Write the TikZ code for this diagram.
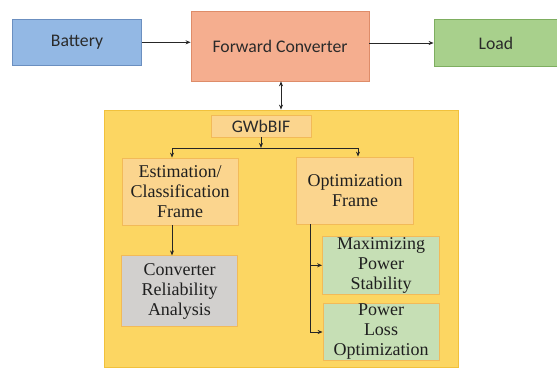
\documentclass[tikz,border=0pt]{standalone}
\usepackage{fontspec}
\setmainfont{Liberation Serif}
\newfontfamily\calib{Carlito}
\usetikzlibrary{arrows.meta,calc}

\definecolor{batfill}{HTML}{93B8E4}
\definecolor{batdraw}{HTML}{6B8FC0}
\definecolor{fcfill}{HTML}{F5AE8F}
\definecolor{fcdraw}{HTML}{DE8C69}
\definecolor{loadfill}{HTML}{A8D08C}
\definecolor{loaddraw}{HTML}{7EAE60}
\definecolor{framefill}{HTML}{FCD662}
\definecolor{framedraw}{HTML}{F1C13C}
\definecolor{subfill}{HTML}{FBD58E}
\definecolor{subdraw}{HTML}{F2BA58}
\definecolor{grayfill}{HTML}{D2D0CE}
\definecolor{greenfill}{HTML}{C6DFB5}
\definecolor{txtdark}{HTML}{2A2A2A}

\tikzset{
  topbox/.style={draw, line width=0.8pt, text=txtdark, align=center,
    font=\calib\fontsize{17.7}{21}\selectfont},
  innerbox/.style={draw=subdraw, line width=0.8pt, text=black!88, align=center,
    font=\fontsize{18}{20}\selectfont},
  arr/.style={draw=black!85, line width=0.8pt, -{Stealth[length=5pt,width=4pt]}},
  dblarr/.style={draw=black!85, line width=0.8pt, {Stealth[length=5pt,width=4pt]}-{Stealth[length=5pt,width=4pt]}},
}

\begin{document}
\begin{tikzpicture}[x=1pt,y=-1pt]
\useasboundingbox (0,0) rectangle (557,369);
\fill[white] (0,0) rectangle (557,369);

% top row: source, converter, load
\node[topbox, fill=batfill, draw=batdraw, minimum width=129pt, minimum height=46.7pt]
  (battery) at (77,42.3) {Battery};
\node[topbox, fill=fcfill, draw=fcdraw, minimum width=178pt, minimum height=69.3pt]
  (fc) at (280,46.3) {Forward Converter};
\node[topbox, fill=loadfill, draw=loaddraw, minimum width=124pt, minimum height=47.4pt]
  (load) at (496,43) {Load};

% control framework
\node[draw=framedraw, fill=framefill, line width=0.8pt, minimum width=354pt, minimum height=257pt]
  (frame) at (281,238.5) {};
\node[innerbox, fill=subfill, font=\calib\fontsize{17.7}{21}\selectfont, text=txtdark,
  minimum width=100pt, minimum height=22pt, inner sep=0pt] (gw) at (261,126) {GWbBIF};

\node[innerbox, fill=subfill, minimum width=116pt, minimum height=67pt, inner sep=2pt]
  (est) at (180,191.5) {Estimation/\\Classification\\Frame};
\node[innerbox, fill=subfill, minimum width=117pt, minimum height=67pt, inner sep=2pt]
  (opt) at (355,190.5) {Optimization\\Frame};
\node[innerbox, fill=grayfill, minimum width=116pt, minimum height=71pt, inner sep=2pt]
  (conv) at (179.5,291.3) {Converter\\Reliability\\Analysis};
\node[innerbox, fill=greenfill, minimum width=117pt, minimum height=56pt, inner sep=1pt]
  (max) at (381,265.3) {Maximizing\\Power\\Stability};
\node[innerbox, fill=greenfill, minimum width=116pt, minimum height=56pt, inner sep=1pt]
  (pl) at (381,332) {Power\\Loss\\Optimization};

% power flow
\draw[arr] (battery.east) -- (fc.west |- battery.east);
\draw[arr] (fc.east |- load.west) -- (load.west);
\draw[dblarr] ([xshift=1pt]fc.south) -- ([xshift=1pt]fc.south |- frame.north);

% framework branches
\coordinate (j) at ($(gw.south)+(0,10.5)$);
\draw[arr] (gw.south) -- (j);
\draw[arr] (j) -| ($(est.north)+(-8,0)$);
\draw[arr] (j) -| ($(opt.north)+(3,0)$);
\coordinate (e) at ($(est.south)+(-8,0)$);
\draw[arr] (e) -- (e |- conv.north);
\coordinate (t) at ($(opt.south west)+(14.5,0)$);
\draw[arr] (t) |- (max.west);
\draw[arr] (t) |- (pl.west);
\end{tikzpicture}
\end{document}
